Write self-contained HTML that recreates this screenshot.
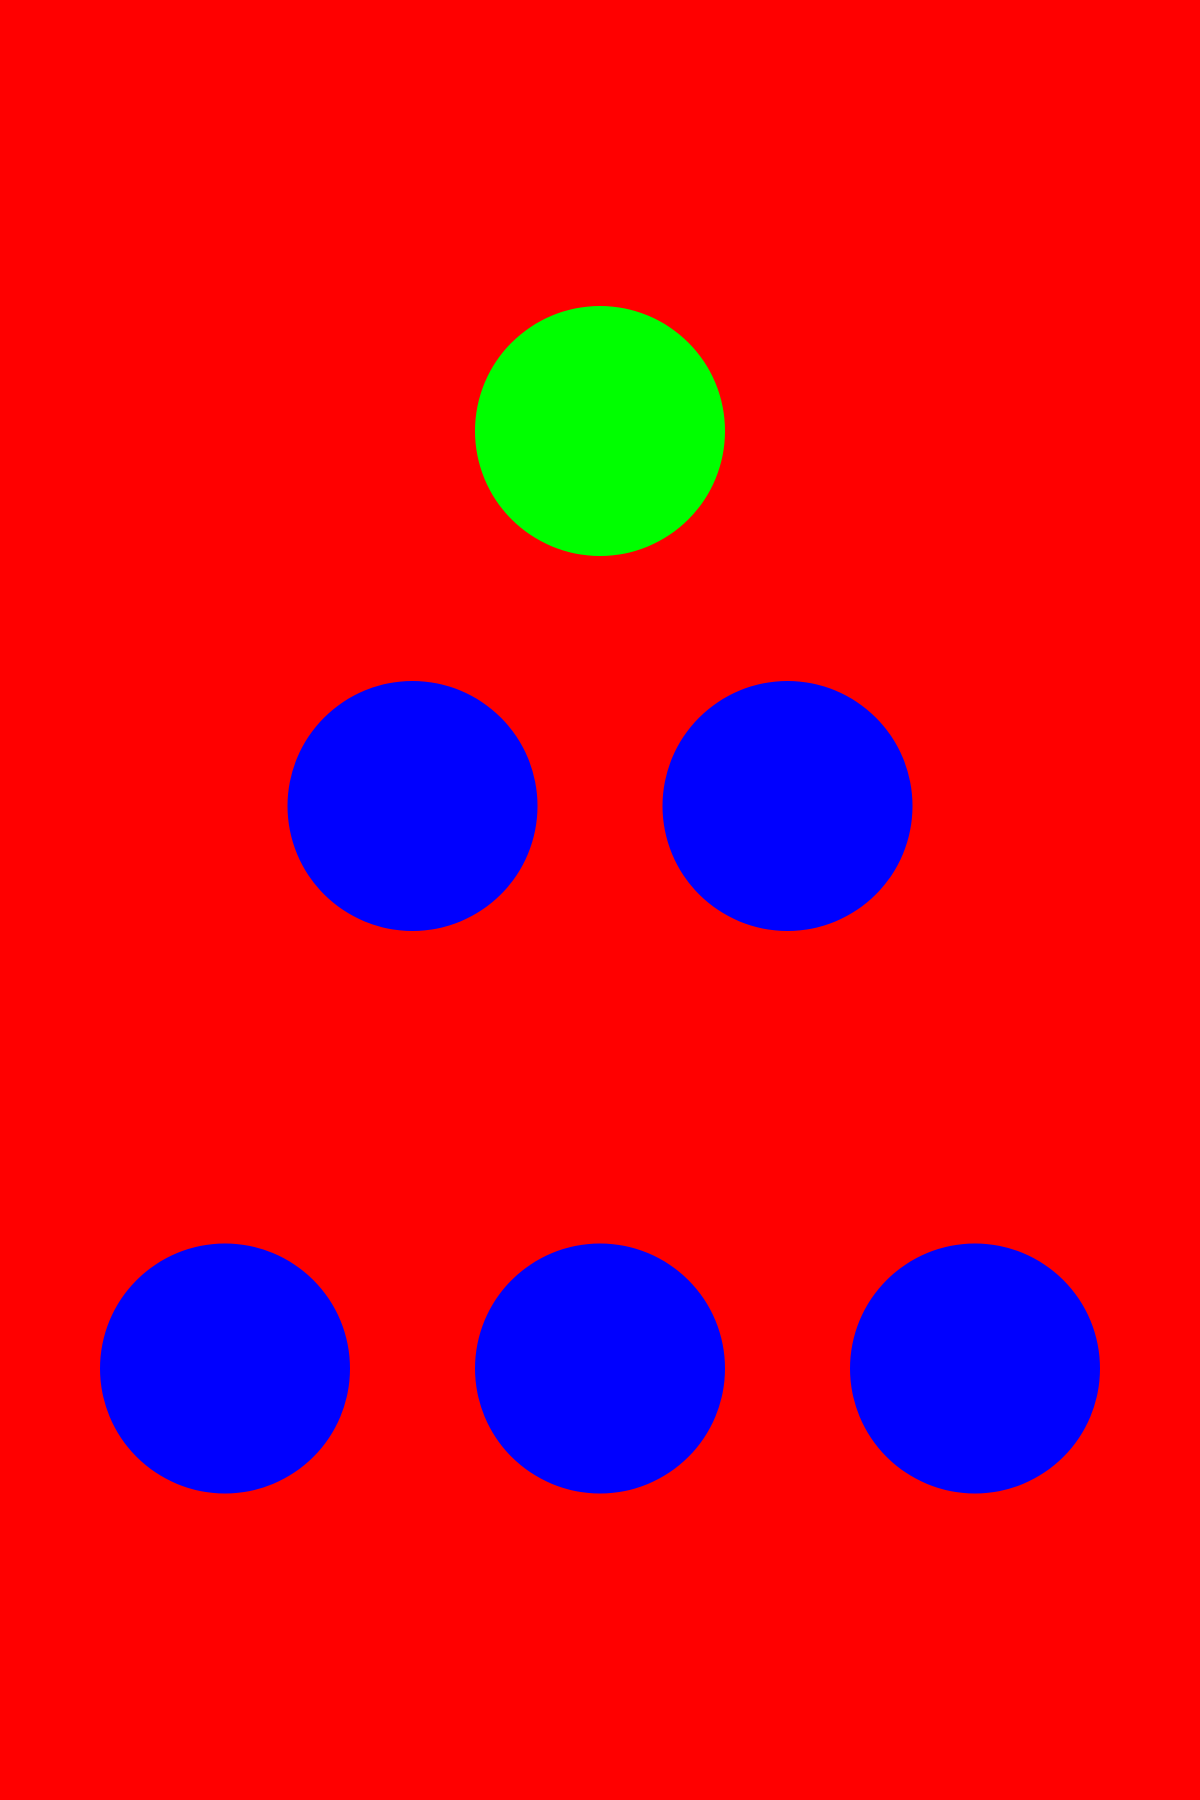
<!DOCTYPE html>
<html>
<head>
<meta charset="utf-8">
<style>
  html, body { margin: 0; padding: 0; background: #ff0000; }
  svg { display: block; }
</style>
</head>
<body>
<svg id="chart" width="1200" height="1800" viewBox="0 0 1200 1800" xmlns="http://www.w3.org/2000/svg">
  <rect x="0" y="0" width="1200" height="1800" fill="#ff0000"/>
</svg>
<script>
const nodeCols = [2, 1, 3, 0, 2, 4];
const nodeRows = [0, 1, 1, 2, 2, 2];
const nodeColors = ['#00ff00', '#0000ff', '#0000ff', '#0000ff', '#0000ff', '#0000ff'];
const rowLevels = [0, 1, 2.5];
const nodeRadius = 125;

function xScale(c) { return 225 + c * 187.5; }
function yScale(r) { return 431 + rowLevels[r] * 375; }

const svg = document.getElementById('chart');
for (let i = 0; i < nodeCols.length; i++) {
  const c = document.createElementNS('http://www.w3.org/2000/svg', 'circle');
  c.setAttribute('cx', xScale(nodeCols[i]));
  c.setAttribute('cy', yScale(nodeRows[i]));
  c.setAttribute('r', nodeRadius);
  c.setAttribute('fill', nodeColors[i]);
  
  
  svg.appendChild(c);
}
</script>
</body>
</html>
